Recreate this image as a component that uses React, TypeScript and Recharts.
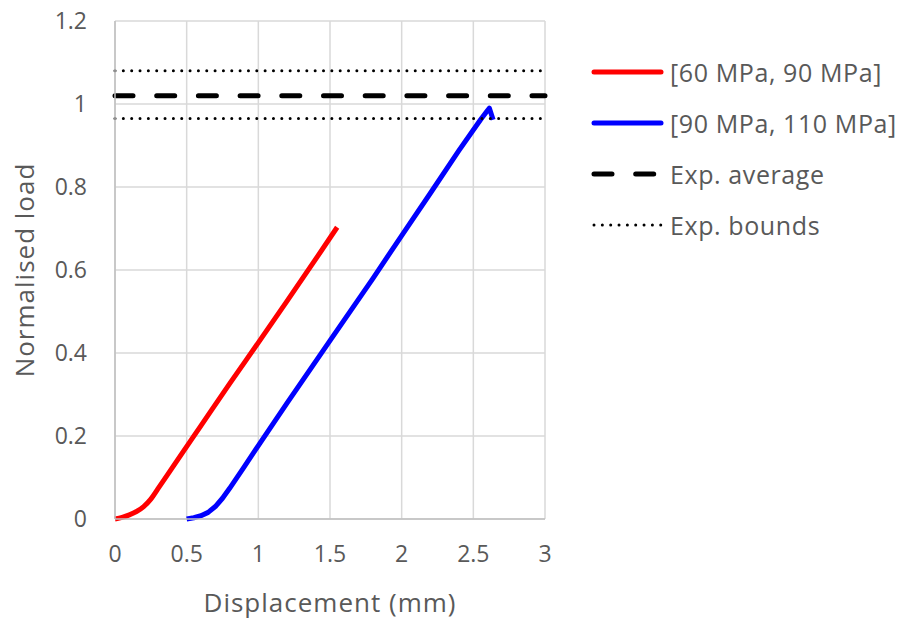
import React from 'react'
import {
  LineChart,
  Line,
  XAxis,
  YAxis,
  CartesianGrid,
} from 'recharts'

// Simulated load–displacement curves for two yield-stress ranges
const lowRangeDisp = [0, 0.05, 0.1, 0.15, 0.2, 0.25, 0.3, 0.4, 0.6, 0.8, 1.0, 1.2, 1.4, 1.55]
const lowRangeLoad = [0, 0.004, 0.01, 0.018, 0.03, 0.048, 0.073, 0.124, 0.225, 0.326, 0.425, 0.525, 0.626, 0.703]

const highRangeDisp = [0.5, 0.55, 0.6, 0.65, 0.7, 0.75, 0.8, 0.9, 1.0, 1.2, 1.5, 1.8, 2.0, 2.2, 2.4, 2.55, 2.6, 2.612, 2.638]
const highRangeLoad = [0, 0.003, 0.008, 0.016, 0.03, 0.05, 0.074, 0.125, 0.177, 0.279, 0.43, 0.58, 0.683, 0.785, 0.888, 0.962, 0.985, 0.99, 0.962]

// Experimental reference levels (normalised)
const expAverage = 1.02
const expUpper = 1.08
const expLower = 0.965

const xTicks = [0, 0.5, 1, 1.5, 2, 2.5, 3]
const yTicks = [0, 0.2, 0.4, 0.6, 0.8, 1, 1.2]

const seriesNames = ['[60 MPa, 90 MPa]', '[90 MPa, 110 MPa]', 'Exp. average', 'Exp. bounds']

const toPoints = (xs: number[], ys: number[]) => xs.map((x, i) => ({ x, y: ys[i] }))
const flatLine = (y: number) => [
  { x: xTicks[0], y },
  { x: xTicks[xTicks.length - 1], y },
]

const FONT = '"Open Sans", "Noto Sans", sans-serif'
const TEXT = '#595959'

const legendItems = [
  { label: seriesNames[0], stroke: '#ff0000', width: 5, dash: undefined as string | undefined },
  { label: seriesNames[1], stroke: '#0000ff', width: 5, dash: undefined },
  { label: seriesNames[2], stroke: '#000000', width: 5, dash: '18 23.7' },
  { label: seriesNames[3], stroke: '#000000', width: 3, dash: '0.01 8.33' },
]

const YTitle = () => (
  <text
    x={24}
    y={270}
    transform="rotate(-90, 24, 270)"
    textAnchor="middle"
    dominantBaseline="central"
    fill={TEXT}
    fontSize={26}
    letterSpacing={1}
    fontFamily={FONT}
  >
    Normalised load
  </text>
)

export default function App() {
  return (
    <div style={{ position: 'absolute', left: 0, top: 0, width: 901, height: 622, background: '#fff' }}>
      <LineChart
        width={901}
        height={622}
        margin={{ top: 21, right: 356, bottom: 0, left: 0 }}
      >
        <CartesianGrid stroke="#d9d9d9" strokeWidth={1.5} />
        <XAxis
          type="number"
          dataKey="x"
          domain={[0, 3]}
          ticks={xTicks}
          height={103}
          tickLine={false}
          tickMargin={21}
          stroke="#bfbfbf"
          strokeWidth={1.5}
          tick={{ fill: TEXT, fontSize: 23, fontFamily: FONT }}
          label={{
            value: 'Displacement (mm)',
            position: 'insideBottom',
            offset: 10,
            fill: TEXT,
            fontSize: 26,
            letterSpacing: 1,
            fontFamily: FONT,
          }}
        />
        <YAxis
          type="number"
          dataKey="y"
          domain={[0, 1.2]}
          ticks={yTicks}
          width={115}
          tickLine={false}
          tickMargin={22}
          stroke="#bfbfbf"
          strokeWidth={1.5}
          tick={{ fill: TEXT, fontSize: 23, fontFamily: FONT }}
          label={{ content: () => <YTitle /> }}
        />
        <Line
          data={toPoints(lowRangeDisp, lowRangeLoad)}
          dataKey="y"
          type="monotone"
          stroke="#ff0000"
          strokeWidth={5}
          dot={false}
          isAnimationActive={false}
        />
        <Line
          data={toPoints(highRangeDisp, highRangeLoad)}
          dataKey="y"
          type="linear"
          stroke="#0000ff"
          strokeWidth={5}
          strokeLinejoin="round"
          dot={false}
          isAnimationActive={false}
        />
        <Line
          data={flatLine(expAverage)}
          dataKey="y"
          stroke="#000000"
          strokeWidth={5}
          strokeDasharray="18 23.7"
          strokeLinecap="round"
          dot={false}
          isAnimationActive={false}
        />
        <Line
          data={flatLine(expUpper)}
          dataKey="y"
          stroke="#000000"
          strokeWidth={3}
          strokeDasharray="0.01 8.33"
          strokeLinecap="round"
          dot={false}
          isAnimationActive={false}
        />
        <Line
          data={flatLine(expLower)}
          dataKey="y"
          stroke="#000000"
          strokeWidth={3}
          strokeDasharray="0.01 8.33"
          strokeLinecap="round"
          dot={false}
          isAnimationActive={false}
        />
      </LineChart>

      <div style={{ position: 'absolute', left: 590, top: 52 }}>
        {legendItems.map((item, i) => (
          <div
            key={item.label}
            style={{ display: 'flex', alignItems: 'center', height: 40, marginBottom: i < 3 ? 11 : 0 }}
          >
            <svg width={76} height={12} style={{ marginRight: 4 }}>
              <line
                x1={4}
                y1={6}
                x2={71}
                y2={6}
                stroke={item.stroke}
                strokeWidth={item.width}
                strokeDasharray={item.dash}
                strokeLinecap="round"
              />
            </svg>
            <span style={{ fontFamily: FONT, fontSize: 25, letterSpacing: 0.6, color: TEXT, whiteSpace: 'nowrap' }}>
              {item.label}
            </span>
          </div>
        ))}
      </div>
    </div>
  )
}
